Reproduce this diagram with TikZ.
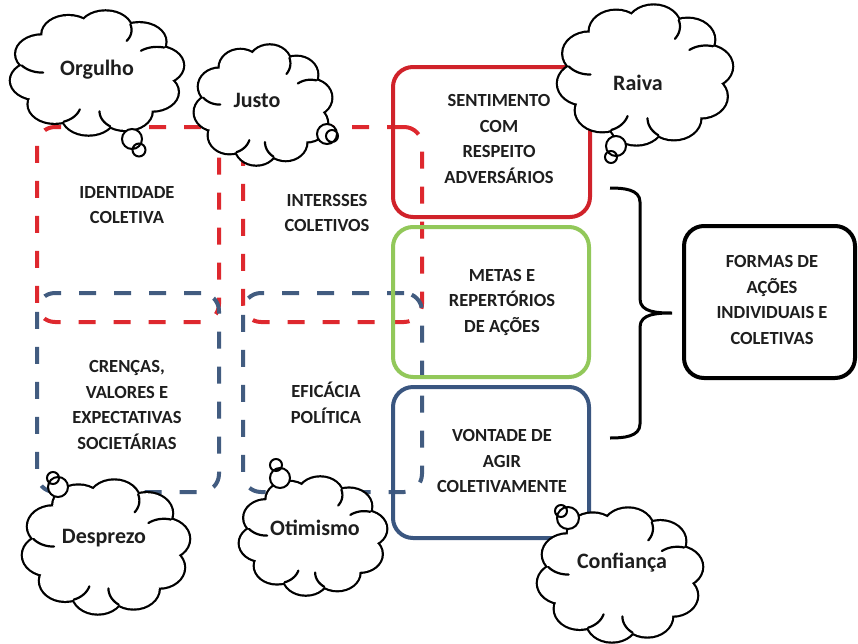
\documentclass[tikz,border=0pt]{standalone}
\usepackage{fontspec}
\setmainfont{Carlito}
\definecolor{dred}{RGB}{222,40,46}
\definecolor{sred}{RGB}{208,34,42}
\definecolor{dblue}{RGB}{66,92,128}
\definecolor{sblue}{RGB}{58,86,128}
\definecolor{sgreen}{RGB}{146,200,90}
\definecolor{txt}{RGB}{30,30,30}
\newcommand\thoughtcloud[4]{%
\begin{scope}[shift={(#1,#2)},xscale=#3,yscale=-#4]
\foreach \a in {10,46,...,334} \draw[line width=4.4pt] (\a:0.7) circle[radius=0.3];
\fill[white] (0,0) circle[radius=0.78];
\foreach \a in {10,46,...,334} \fill[white] (\a:0.7) circle[radius=0.3];
\foreach \a/\d in {10/1,154/1,226/1,82/-1,298/-1} {%
  \pgfmathsetmacro\sa{\a+64*\d}\pgfmathsetmacro\ea{\a+118*\d}%
  \draw[line width=2.2pt, line cap=round] plot[smooth, domain=\sa:\ea, samples=10, variable=\t] ({0.7*cos(\a)+0.3*cos(\t)},{0.7*sin(\a)+0.3*sin(\t)});}
\end{scope}}
\newcommand\bubbles[6]{%
\fill[white] (#1,#2) circle[radius=#3] (#4,#5) circle[radius=#6];
\draw[line width=2pt] (#1,#2) circle[radius=#3] (#4,#5) circle[radius=#6];}
\tikzset{
  dbox/.style={draw, line width=4pt, rounded corners=18pt, dash pattern=on 17pt off 18pt, inner sep=0pt},
  sbox/.style={draw, line width=4pt, rounded corners=20pt, inner sep=0pt},
  btext/.style={text=txt, align=center, font=\fontsize{18.5}{25.5}\selectfont\bfseries},
  ctext/.style={text=txt, align=center, font=\fontsize{22}{25}\selectfont\bfseries},
}
\begin{document}
\begin{tikzpicture}[x=1pt,y=-1pt]
\useasboundingbox (0,0) rectangle (858,643);
\fill[white] (0,0) rectangle (858,643);
% dashed boxes
\node[dbox, draw=dred, minimum width=182pt, minimum height=195pt] (idcol) at (128,224.5) {};
\node[dbox, draw=dred, minimum width=179pt, minimum height=195pt] (intcol) at (332.5,224.5) {};
\node[dbox, draw=dblue, minimum width=182pt, minimum height=199pt] (crencas) at (128,392.5) {};
\node[dbox, draw=dblue, minimum width=179pt, minimum height=199pt] (eficacia) at (332.5,392.5) {};
% solid boxes
\node[sbox, draw=sred, minimum width=197pt, minimum height=150pt] (sent) at (491.5,142) {};
\node[sbox, draw=sgreen, minimum width=196pt, minimum height=150pt] (metas) at (491,302) {};
\node[sbox, draw=sblue, minimum width=196pt, minimum height=151pt] (vont) at (491,462.5) {};
\node[sbox, draw=black, minimum width=171pt, minimum height=152pt] (formas) at (769.5,302) {};
% texts
\node[btext] (tid) at (127,205) {IDENTIDADE\\COLETIVA};
\node[btext] (tint) at (327,213) {INTERSSES\\COLETIVOS};
\node[btext] (tcre) at (127,405) {CRENÇAS,\\VALORES E\\EXPECTATIVAS\\SOCIETÁRIAS};
\node[btext] (tefi) at (326,403) {EFICÁCIA\\POLÍTICA};
\node[btext] (tsen) at (499,139) {SENTIMENTO\\COM\\RESPEITO\\ADVERSÁRIOS};
\node[btext] (tmet) at (502,302) {METAS E\\REPERTÓRIOS\\DE AÇÕES};
\node[btext] (tvon) at (502,461) {VONTADE DE\\AGIR\\COLETIVAMENTE};
\node[btext] (tfor) at (772,300) {FORMAS DE\\AÇÕES\\INDIVIDUAIS E\\COLETIVAS};
% brace
\coordinate (bt) at (610,188);
\coordinate (bm) at (672,313);
\coordinate (bb) at (610,438);
\draw[line width=3pt] (bt) to[out=0,in=90] (640,202) -- (640,299) to[out=-90,in=180] (bm)
  to[out=180,in=90] (640,327) -- (640,424) to[out=-90,in=0] (bb);
% clouds
\thoughtcloud{97}{73}{87}{62}
\node[ctext] (orgulho) at (97,70) {Orgulho};
\bubbles{132}{139}{10}{139}{150}{6.5}
\thoughtcloud{263}{105}{69}{60}
\node[ctext] (justo) at (257,100) {Justo};
\bubbles{327}{134}{10}{332}{136}{6}
\thoughtcloud{645}{75}{88}{70}
\node[ctext] (raiva) at (638,83) {Raiva};
\bubbles{616}{146}{10}{611}{157}{6}
\thoughtcloud{106}{547}{84}{67}
\node[ctext] (desprezo) at (104,538) {Desprezo};
\bubbles{58}{487}{10}{53}{478}{6}
\thoughtcloud{313}{536}{74}{59}
\node[ctext] (otimismo) at (315,528) {Otimismo};
\bubbles{280}{478}{10}{276}{465}{6}
\thoughtcloud{620}{575}{83}{67}
\node[ctext] (confianca) at (622,563) {Confiança};
\bubbles{568}{518}{11}{561}{511}{6}
\end{tikzpicture}
\end{document}
